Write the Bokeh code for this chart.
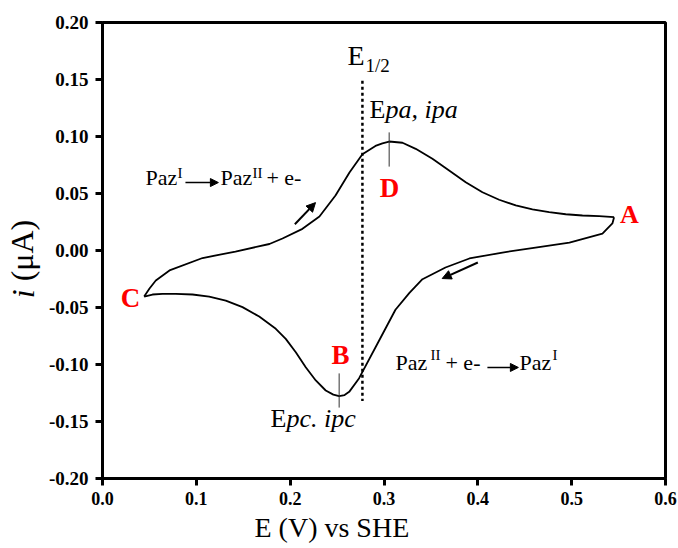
import numpy as np
from bokeh.plotting import figure
from bokeh.models import (Label, Arrow, NormalHead, FixedTicker, PrintfTickFormatter, Range1d,
                          Title, LinearAxis, CustomJSTickFormatter)
from bokeh.embed import file_html
from bokeh.resources import INLINE

# ---- data ----
# anodic sweep (upper branch), from C to A
E_anodic = [0.0444, 0.0501, 0.0568, 0.0714, 0.1066, 0.1417, 0.1779, 0.1918, 0.2131, 0.2312,
            0.2483, 0.2632, 0.2770, 0.2909, 0.2983, 0.3055, 0.3197, 0.3338, 0.3516,
            0.3694, 0.3871, 0.4049, 0.4227, 0.4404, 0.4582, 0.4760, 0.4937, 0.5115,
            0.5292, 0.5452]
i_anodic = [-0.0404, -0.0333, -0.0263, -0.0175, -0.0066, -0.0009, 0.0057, 0.0105, 0.0190, 0.0298,
            0.0482, 0.0684, 0.0845, 0.0917, 0.0940, 0.0956, 0.0945, 0.0892, 0.0804,
            0.0702, 0.0599, 0.0511, 0.0445, 0.0395, 0.0360, 0.0336, 0.0318, 0.0307,
            0.0301, 0.0292]
# cathodic sweep (lower branch), from A to C
E_cathodic = [0.5452, 0.5434, 0.5328, 0.4976, 0.4614, 0.4262, 0.3910, 0.3655, 0.3410,
              0.3271, 0.3122, 0.2951, 0.2735, 0.2629, 0.2580, 0.2522, 0.2460, 0.2379,
              0.2273, 0.2166, 0.2060, 0.1953, 0.1847, 0.1670, 0.1492, 0.1314, 0.1137,
              0.0959, 0.0781, 0.0639, 0.0533, 0.0444]
i_cathodic = [0.0292, 0.0237, 0.0149, 0.0070, 0.0026, -0.0018, -0.0070, -0.0149, -0.0252,
              -0.0372, -0.0520, -0.0785, -0.1120, -0.1240, -0.1268, -0.1278, -0.1264, -0.1228,
              -0.1140, -0.1024, -0.0892, -0.0775, -0.0687, -0.0579, -0.0497, -0.0439, -0.0404,
              -0.0386, -0.0380, -0.0380, -0.0386, -0.0404]

E_half = 0.277
Epa, ipa = 0.3055, 0.0956
Epc, ipc = 0.2522, -0.1278

x_ticks = [0.0, 0.1, 0.2, 0.3, 0.4, 0.5, 0.6]
y_ticks = [-0.20, -0.15, -0.10, -0.05, 0.00, 0.05, 0.10, 0.15, 0.20]

SERIF = "Liberation Serif"
PX_PER_UNIT_Y = 1140.0  # frame height 456 px over 0.4 units

p = figure(frame_width=563, frame_height=456, output_backend="svg", toolbar_location=None,
           x_range=Range1d(0.0, 0.6), y_range=Range1d(-0.20, 0.20),
           min_border_left=100, min_border_right=15, min_border_top=22, min_border_bottom=10)
p.background_fill_color = "white"
p.border_fill_color = "white"
p.outline_line_color = "black"
p.outline_line_width = 3
p.grid.visible = False

for ax in (p.xaxis[0], p.yaxis[0]):
    ax.axis_line_width = 3
    ax.major_tick_line_width = 3
    ax.major_tick_out = 7
    ax.major_tick_in = 0
    ax.minor_tick_line_color = None
    ax.major_label_text_font = SERIF
    ax.major_label_text_font_style = "bold"
    ax.major_label_text_color = "black"
    ax.axis_label = None

p.xaxis[0].ticker = FixedTicker(ticks=x_ticks)
p.xaxis[0].formatter = PrintfTickFormatter(format="%.1f")
p.xaxis[0].major_label_text_font_size = "18px"
p.xaxis[0].major_label_standoff = 6
p.yaxis[0].ticker = FixedTicker(ticks=y_ticks)
p.yaxis[0].formatter = PrintfTickFormatter(format="%.2f")
p.yaxis[0].major_label_text_font_size = "19px"
p.yaxis[0].major_label_standoff = 7

# y-axis title: italic "i" (as a single tick label) + "(µA)" (axis label, same column)
ytitle = LinearAxis(ticker=FixedTicker(ticks=[-0.038]),
                    formatter=CustomJSTickFormatter(code="return 'i'"),
                    axis_line_color=None, major_tick_line_color=None,
                    minor_tick_line_color=None, major_tick_out=0, major_tick_in=0,
                    major_label_orientation="vertical", major_label_standoff=4,
                    major_label_text_font=SERIF, major_label_text_font_size="32px",
                    major_label_text_font_style="italic", major_label_text_color="black",
                    axis_label="(\u03bcA)", axis_label_text_font=SERIF,
                    axis_label_text_font_size="32px", axis_label_text_font_style="normal",
                    axis_label_text_color="black", axis_label_standoff=-37)
p.add_layout(ytitle, "left")

# curve
p.line(E_anodic, i_anodic, line_color="black", line_width=1.8, line_join="round")
p.line(E_cathodic, i_cathodic, line_color="black", line_width=1.8, line_join="round")

# E1/2 dotted line
p.segment(x0=[E_half], y0=[0.149], x1=[E_half], y1=[-0.132],
          line_color="black", line_width=2.5, line_dash="3 3")
# peak markers
p.segment(x0=[Epa], y0=[ipa + 0.008], x1=[Epa], y1=[ipa - 0.022], line_color="#333333", line_width=1)
p.segment(x0=[Epc], y0=[ipc + 0.020], x1=[Epc], y1=[ipc - 0.010], line_color="#333333", line_width=1)


def lab(x, y, text, size, style="normal", color="black", align="left"):
    # y is the wanted baseline; compensate the renderer's baseline shift
    fs = float(size.replace("px", ""))
    y_adj = y + 0.36 * fs / PX_PER_UNIT_Y
    p.add_layout(Label(x=x, y=y_adj, text=text, text_font=SERIF, text_font_size=size,
                       text_font_style=style, text_color=color, text_align=align,
                       text_baseline="alphabetic"))


def arr(x0, y0, x1, y1, width=1.5, size=8):
    p.add_layout(Arrow(x_start=x0, y_start=y0, x_end=x1, y_end=y1, line_width=width,
                       line_color="black",
                       end=NormalHead(size=size, fill_color="black", line_color="black", line_width=1)))


# E1/2
lab(0.2611, 0.1623, "E", "28px")
lab(0.2802, 0.1561, "1/2", "19px")
# Epa, ipa
lab(0.2845, 0.1158, "E", "26px")
lab(0.3017, 0.1158, "pa, ipa", "26px", "italic")
# Epc. ipc
lab(0.1790, -0.1553, "E", "26px")
lab(0.1960, -0.1553, "pc. ipc", "26px", "italic")

# red point labels
RED = "#ff0000"
lab(0.5615, 0.0237, "A", "26px", "bold", RED, "center")
lab(0.3058, 0.0465, "D", "27px", "bold", RED, "center")
lab(0.0298, -0.0500, "C", "27px", "bold", RED, "center")
lab(0.2536, -0.1000, "B", "27px", "bold", RED, "center")

# reaction Paz(I) -> Paz(II) + e-
lab(0.0458, 0.0570, "Paz", "22px")
lab(0.0799, 0.0630, "I", "15px")
arr(0.0884, 0.0596, 0.1235, 0.0596)
lab(0.1257, 0.0570, "Paz", "22px")
lab(0.1598, 0.0630, "II", "15px")
lab(0.1747, 0.0570, "+ e-", "22px")

# reaction Paz(II) + e- -> Paz(I)
lab(0.3122, -0.1053, "Paz", "22px")
lab(0.3495, -0.0965, "II", "15px")
lab(0.3655, -0.1053, "+ e-", "22px")
arr(0.4102, -0.1026, 0.4432, -0.1026)
lab(0.4443, -0.1053, "Paz", "22px")
lab(0.4795, -0.0965, "I", "15px")

# sweep direction arrows
arr(0.205, 0.023, 0.227, 0.042, width=2, size=9)
arr(0.400, -0.0105, 0.362, -0.0246, width=2, size=9)

# x-axis title (offset to the left as in the original)
p.add_layout(Title(text="E (V) vs SHE", align="left", offset=152, standoff=4,
                   text_font=SERIF, text_font_size="28px", text_font_style="normal",
                   text_color="black"), "below")

open("out.html", "w").write(file_html(p, INLINE))
